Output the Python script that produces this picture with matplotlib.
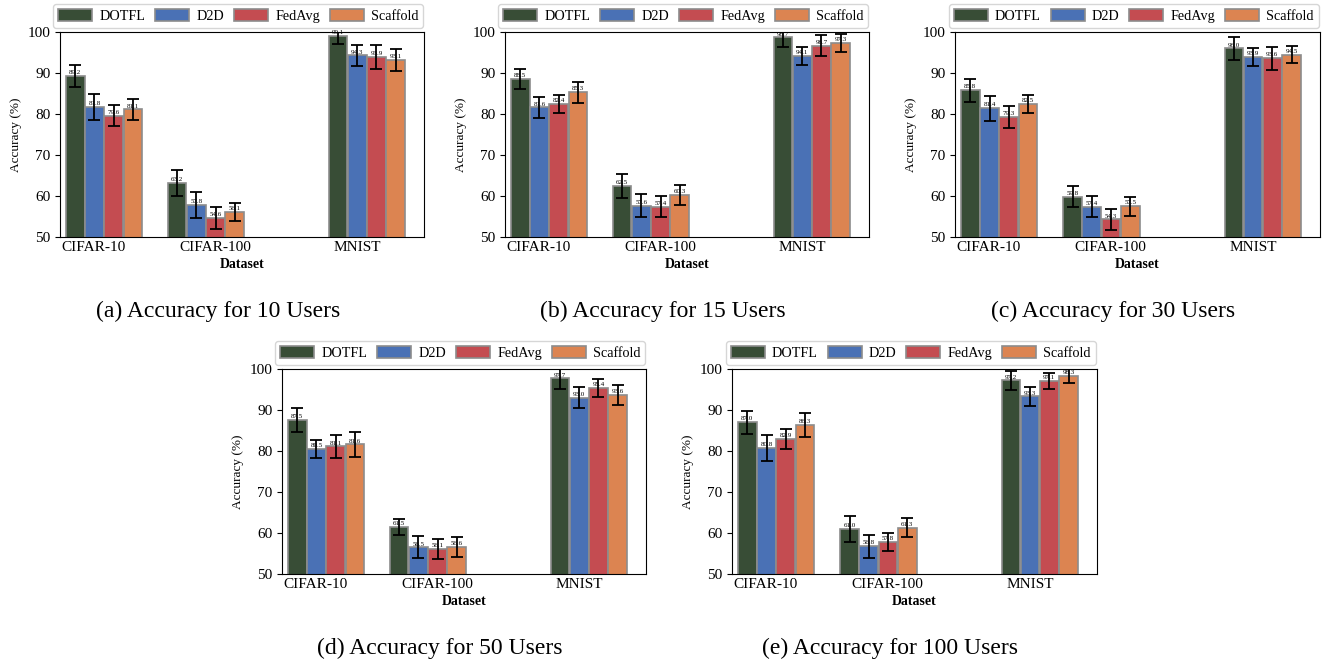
import numpy as np
from matplotlib import pyplot as plt
from matplotlib.patches import Patch

plt.rcParams['font.family'] = ['Liberation Serif', 'DejaVu Serif']

datasets = ['CIFAR-10', 'CIFAR-100', 'MNIST']
methods = ['DOTFL', 'D2D', 'FedAvg', 'Scaffold']
colors = ['#384d36', '#4a71b5', '#c44c51', '#dc8451']

users = [10, 15, 30, 50, 100]

# accuracy per method, ordered as datasets
acc_10 = {'DOTFL': [89.2, 63.2, 99.1], 'D2D': [81.8, 57.8, 94.3],
          'FedAvg': [79.6, 54.6, 93.9], 'Scaffold': [81.1, 56.1, 93.1]}
err_10 = {'DOTFL': [2.7, 3.1, 2.0], 'D2D': [3.2, 3.2, 2.5],
          'FedAvg': [2.6, 2.6, 2.9], 'Scaffold': [2.5, 2.2, 2.7]}

acc_15 = {'DOTFL': [88.5, 62.5, 98.7], 'D2D': [81.6, 57.6, 94.1],
          'FedAvg': [82.4, 57.4, 96.7], 'Scaffold': [85.3, 60.3, 97.3]}
err_15 = {'DOTFL': [2.5, 2.9, 2.3], 'D2D': [2.5, 2.8, 2.2],
          'FedAvg': [2.2, 2.5, 2.6], 'Scaffold': [2.5, 2.5, 2.1]}

acc_30 = {'DOTFL': [85.8, 59.8, 96.0], 'D2D': [81.4, 57.4, 93.9],
          'FedAvg': [79.3, 54.3, 93.6], 'Scaffold': [82.5, 57.5, 94.5]}
err_30 = {'DOTFL': [2.8, 2.6, 2.8], 'D2D': [3.0, 2.5, 2.2],
          'FedAvg': [2.7, 2.5, 2.8], 'Scaffold': [2.2, 2.3, 2.1]}

acc_50 = {'DOTFL': [87.5, 61.5, 97.7], 'D2D': [80.5, 56.5, 93.0],
          'FedAvg': [81.1, 56.1, 95.4], 'Scaffold': [81.6, 56.6, 93.6]}
err_50 = {'DOTFL': [2.9, 1.9, 2.5], 'D2D': [2.3, 2.7, 2.5],
          'FedAvg': [2.8, 2.5, 2.2], 'Scaffold': [3.0, 2.5, 2.4]}

acc_100 = {'DOTFL': [87.0, 61.0, 97.2], 'D2D': [80.8, 56.8, 93.3],
           'FedAvg': [82.9, 57.8, 97.1], 'Scaffold': [86.3, 61.3, 98.3]}
err_100 = {'DOTFL': [2.8, 3.2, 2.2], 'D2D': [3.2, 2.8, 2.3],
           'FedAvg': [2.4, 2.3, 2.0], 'Scaffold': [3.0, 2.3, 1.8]}

all_acc = [acc_10, acc_15, acc_30, acc_50, acc_100]
all_err = [err_10, err_15, err_30, err_50, err_100]

# axes rectangles in figure pixels: left, top, right, bottom
W, H = 1330, 666
boxes = [(60, 32, 424, 237), (505, 32, 869, 237), (955, 32, 1320, 237),
         (282, 369, 646, 574), (732, 369, 1097, 574)]
captions = ['(a)', '(b)', '(c)', '(d)', '(e)']

group_centers = np.array([0.121, 0.401, 0.843])
tick_pos = [0.093, 0.426, 0.816]
step = 0.0527
width = 0.051

fig = plt.figure(figsize=(W / 100, H / 100), dpi=100)

for k, (l, t, r, b) in enumerate(boxes):
    ax = fig.add_axes([l / W, 1 - b / H, (r - l) / W, (b - t) / H])
    acc, err = all_acc[k], all_err[k]
    for i, m in enumerate(methods):
        x = group_centers + (i - 1.5) * step
        ax.bar(x, acc[m], width, color=colors[i], edgecolor='#8c8c8c',
               linewidth=1.2, zorder=2)
        ax.errorbar(x, acc[m], yerr=err[m], fmt='none', ecolor='black',
                    elinewidth=1.3, capsize=4.5, capthick=1.3, zorder=3)
        for xi, v in zip(x, acc[m]):
            ax.text(xi, v + 0.2, f'{v:.1f}', ha='center', va='bottom',
                    fontsize=5, zorder=4)
    ax.set_xlim(0, 1)
    ax.set_ylim(50, 100)
    ax.set_xticks(tick_pos)
    ax.set_xticklabels(datasets, fontsize=11)
    ax.tick_params(axis='x', length=0, pad=3)
    ax.tick_params(axis='y', labelsize=11)
    ax.set_yticks(range(50, 101, 10))
    ax.set_ylabel('Accuracy (%)', fontsize=9.5)
    ax.set_xlabel('Dataset', fontsize=10, fontweight='bold', labelpad=3)
    handles = [Patch(facecolor=c, edgecolor='#8c8c8c', linewidth=1.2) for c in colors]
    ax.legend(handles, methods, loc='lower center', bbox_to_anchor=(0.49, 1.02),
              borderaxespad=0, ncol=4, fontsize=10.2, handlelength=2.4,
              handleheight=0.9, handletextpad=0.5, columnspacing=0.7,
              borderpad=0.35, frameon=True)
    cx = ((l + r) / 2 - 24) / W
    cy = 1 - (311 if t < 100 else 648) / H
    fig.text(cx, cy, f'{captions[k]} Accuracy for {users[k]} Users',
             ha='center', va='center', fontsize=17)

fig.savefig('out.png', dpi=100)
